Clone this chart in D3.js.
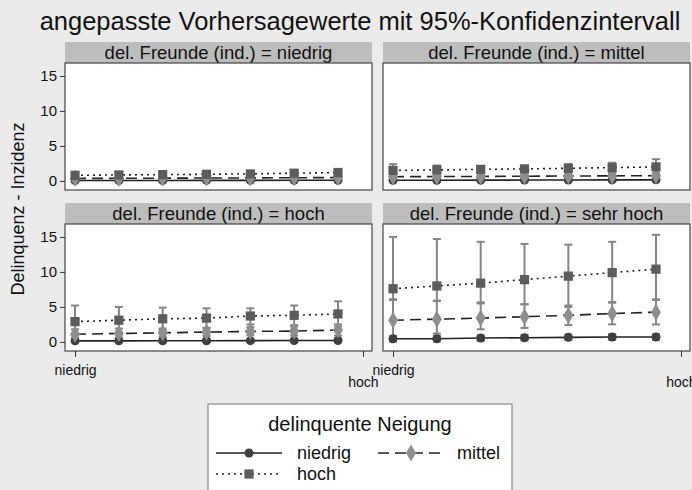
<!DOCTYPE html>
<html>
<head>
<meta charset="utf-8">
<script src="https://cdn.jsdelivr.net/npm/d3@7"></script>
<style>
  body { margin: 0; background: #ebebeb; }
  svg { font-family: "Liberation Sans", Arial, sans-serif; }
</style>
</head>
<body>
<div id="chart"></div>
<script>
// panels (del. Freunde) and the 7 prediction points along the x variable
var panels = ['niedrig', 'mittel', 'hoch', 'sehr hoch'];
var points = [0, 1, 2, 3, 4, 5, 6];
var xTicks = [0, 6.57];
var xTickLabels = ['niedrig', 'hoch'];
var yTicks = [0, 5, 10, 15];

// series "delinquente Neigung" = niedrig, per panel
var niedrigEst = [
  [0.05, 0.05, 0.06, 0.07, 0.08, 0.09, 0.1],
  [0.1, 0.1, 0.11, 0.12, 0.13, 0.14, 0.15],
  [0.15, 0.15, 0.16, 0.17, 0.18, 0.19, 0.2],
  [0.45, 0.45, 0.55, 0.6, 0.65, 0.7, 0.7]
];
var niedrigLo = [
  [0, 0, 0, 0, 0, 0, 0],
  [0, 0, 0, 0, 0, 0, 0],
  [0, 0, 0, 0, 0, 0, 0],
  [0.05, 0.05, 0.15, 0.2, 0.25, 0.3, 0.3]
];
var niedrigHi = [
  [0.15, 0.15, 0.16, 0.17, 0.18, 0.19, 0.2],
  [0.25, 0.25, 0.26, 0.27, 0.28, 0.3, 0.32],
  [0.35, 0.35, 0.36, 0.37, 0.38, 0.4, 0.42],
  [0.85, 0.85, 0.95, 1.0, 1.05, 1.1, 1.1]
];

// series mittel
var mittelEst = [
  [0.35, 0.37, 0.39, 0.41, 0.43, 0.45, 0.48],
  [0.6, 0.62, 0.64, 0.67, 0.7, 0.72, 0.75],
  [1.1, 1.2, 1.3, 1.4, 1.5, 1.55, 1.7],
  [3.1, 3.25, 3.4, 3.6, 3.8, 4.05, 4.25]
];
var mittelLo = [
  [0.15, 0.17, 0.19, 0.21, 0.23, 0.25, 0.26],
  [0.25, 0.27, 0.3, 0.32, 0.35, 0.36, 0.38],
  [0.5, 0.6, 0.75, 0.85, 0.95, 0.9, 0.9],
  [0.6, 1.2, 1.8, 2.0, 2.4, 2.5, 2.5]
];
var mittelHi = [
  [0.55, 0.57, 0.6, 0.62, 0.64, 0.66, 0.7],
  [0.95, 0.97, 1.0, 1.02, 1.05, 1.08, 1.12],
  [1.8, 1.9, 1.9, 2.0, 2.1, 2.2, 2.5],
  [6.0, 5.85, 5.65, 5.35, 5.2, 5.7, 6.0]
];

// series hoch
var hochEst = [
  [0.8, 0.85, 0.9, 0.95, 1.0, 1.1, 1.2],
  [1.5, 1.57, 1.65, 1.72, 1.8, 1.9, 2.0],
  [2.9, 3.1, 3.3, 3.4, 3.7, 3.8, 4.0],
  [7.6, 8.0, 8.4, 8.9, 9.4, 9.9, 10.4]
];
var hochLo = [
  [0.4, 0.45, 0.5, 0.55, 0.6, 0.65, 0.7],
  [0.6, 0.8, 1.1, 1.2, 1.2, 1.2, 0.9],
  [0.6, 1.2, 1.7, 2.0, 2.5, 2.4, 2.2],
  [6.1, 5.9, 5.5, 5.4, 5.0, 5.6, 6.1]
];
var hochHi = [
  [1.2, 1.25, 1.3, 1.35, 1.4, 1.55, 1.7],
  [2.4, 2.2, 2.1, 2.1, 2.4, 2.6, 3.1],
  [5.2, 5.0, 4.9, 4.8, 4.8, 5.2, 5.8],
  [15.0, 14.7, 14.3, 14.0, 13.9, 14.3, 15.3]
];

var series = [
  {name: 'niedrig', est: niedrigEst, lo: niedrigLo, hi: niedrigHi, dash: null, marker: d3.symbolCircle, size: 64, fill: '#3f3f3f'},
  {name: 'mittel', est: mittelEst, lo: mittelLo, hi: mittelHi, dash: '11,6', marker: d3.symbolDiamond, size: 85, fill: '#8e8e8e'},
  {name: 'hoch', est: hochEst, lo: hochLo, hi: hochHi, dash: '2,4', marker: d3.symbolSquare, size: 85, fill: '#5c5c5c'}
];

var svgWidth = 692;
var svgHeight = 490;

var svg = d3.select('#chart')
  .append('svg')
  .attr('width', svgWidth)
  .attr('height', svgHeight);

svg.append('rect').attr('width', svgWidth).attr('height', svgHeight).attr('fill', '#ebebeb');

// title
svg.append('text')
  .attr('x', 360)
  .attr('y', 30)
  .attr('text-anchor', 'middle')
  .attr('font-size', '25.5px')
  .attr('fill', '#111')
  .text('angepasste Vorhersagewerte mit 95%-Konfidenzintervall');

// y axis title
svg.append('text')
  .attr('transform', 'translate(24, 209) rotate(-90)')
  .attr('text-anchor', 'middle')
  .attr('font-size', '18px')
  .attr('fill', '#111')
  .text('Delinquenz - Inzidenz');

var colX = [65, 383];
var plotW = 307;
var rowY = [63, 224];
var plotH = 127;
var stripH = 21;

var yScale0 = d3.scaleLinear().domain([-1.3, 16.85]).range([plotH, 0]);
var xScale0 = d3.scaleLinear().domain([-0.229, 6.776]).range([0, plotW]);

panels.forEach(function(p, i) {
  var col = i % 2, row = Math.floor(i / 2);
  var g = svg.append('g').attr('transform', `translate(${colX[col]}, ${rowY[row]})`);

  // strip
  g.append('rect')
    .attr('x', 0).attr('y', -stripH)
    .attr('width', plotW).attr('height', stripH)
    .attr('fill', '#bdbdbd');
  g.append('text')
    .attr('x', plotW / 2).attr('y', -4)
    .attr('text-anchor', 'middle')
    .attr('font-size', '18.5px')
    .attr('fill', '#111')
    .text('del. Freunde (ind.) = ' + p);

  // plot area
  g.append('rect')
    .attr('width', plotW).attr('height', plotH)
    .attr('fill', 'white')
    .attr('stroke', '#444')
    .attr('stroke-width', 1.2);

  if (col == 0) {
    var yAxis = d3.axisLeft(yScale0).tickValues(yTicks).tickSize(5).tickPadding(3);
    var ya = g.append('g').call(yAxis);
    ya.select('.domain').remove();
    ya.selectAll('text').attr('font-size', '15px').attr('fill', '#111').attr('font-family', '"Liberation Sans", Arial, sans-serif');
    ya.selectAll('line').attr('stroke', '#333');
  }
  if (row == 1) {
    var xAxis = d3.axisBottom(xScale0).tickValues(xTicks).tickFormat((d, k) => xTickLabels[k]).tickSize(6).tickPadding(8);
    var xa = g.append('g').attr('transform', `translate(0, ${plotH})`).call(xAxis);
    xa.select('.domain').remove();
    xa.selectAll('line').attr('stroke', '#333');
    xa.selectAll('text')
      .attr('font-size', '14px')
      .attr('fill', '#111')
      .attr('font-family', '"Liberation Sans", Arial, sans-serif')
      .attr('dy', (d, k) => k == 0 ? '0.71em' : '1.55em');
  }

  // confidence intervals first
  series.forEach(function(s) {
    var ci = g.append('g');
    points.forEach(function(x, k) {
      var px = xScale0(x);
      var lo = yScale0(s.lo[i][k]), hi = yScale0(s.hi[i][k]);
      ci.append('line').attr('x1', px).attr('x2', px).attr('y1', lo).attr('y2', hi)
        .attr('stroke', '#858585').attr('stroke-width', 2);
      [lo, hi].forEach(function(cy) {
        ci.append('line').attr('x1', px - 4).attr('x2', px + 4).attr('y1', cy).attr('y2', cy)
          .attr('stroke', '#858585').attr('stroke-width', 2);
      });
    });
  });

  // lines and markers
  series.forEach(function(s) {
    var line = d3.line().x((d, k) => xScale0(points[k])).y(d => yScale0(d));
    g.append('path')
      .datum(s.est[i])
      .attr('d', line)
      .attr('fill', 'none')
      .attr('stroke', '#222')
      .attr('stroke-width', 1.6)
      .attr('stroke-dasharray', s.dash);
    g.selectAll(null)
      .data(s.est[i])
      .enter()
      .append('path')
      .attr('d', d3.symbol().type(s.marker).size(s.size))
      .attr('transform', (d, k) => `translate(${xScale0(points[k])}, ${yScale0(d)})`)
      .attr('fill', s.fill);
  });
});

// legend
var lg = svg.append('g').attr('transform', 'translate(208, 404)');
lg.append('rect')
  .attr('width', 304).attr('height', 92)
  .attr('fill', 'white')
  .attr('stroke', '#888')
  .attr('stroke-width', 1.2);
lg.append('text')
  .attr('x', 152).attr('y', 27)
  .attr('text-anchor', 'middle')
  .attr('font-size', '20px')
  .attr('fill', '#111')
  .text('delinquente Neigung');

var legendPos = [[8, 49], [170, 49], [8, 70]];
series.forEach(function(s, k) {
  var item = lg.append('g').attr('transform', `translate(${legendPos[k][0]}, ${legendPos[k][1]})`);
  item.append('line')
    .attr('x1', 0).attr('x2', 66).attr('y1', 0).attr('y2', 0)
    .attr('stroke', '#222').attr('stroke-width', 1.6)
    .attr('stroke-dasharray', s.dash);
  item.append('path')
    .attr('d', d3.symbol().type(s.marker).size(s.size))
    .attr('transform', 'translate(33, 0)')
    .attr('fill', s.fill);
  item.append('text')
    .attr('x', k == 1 ? 79 : 81).attr('y', 6)
    .attr('font-size', '18px')
    .attr('fill', '#111')
    .text(s.name);
});
</script>
</body>
</html>
